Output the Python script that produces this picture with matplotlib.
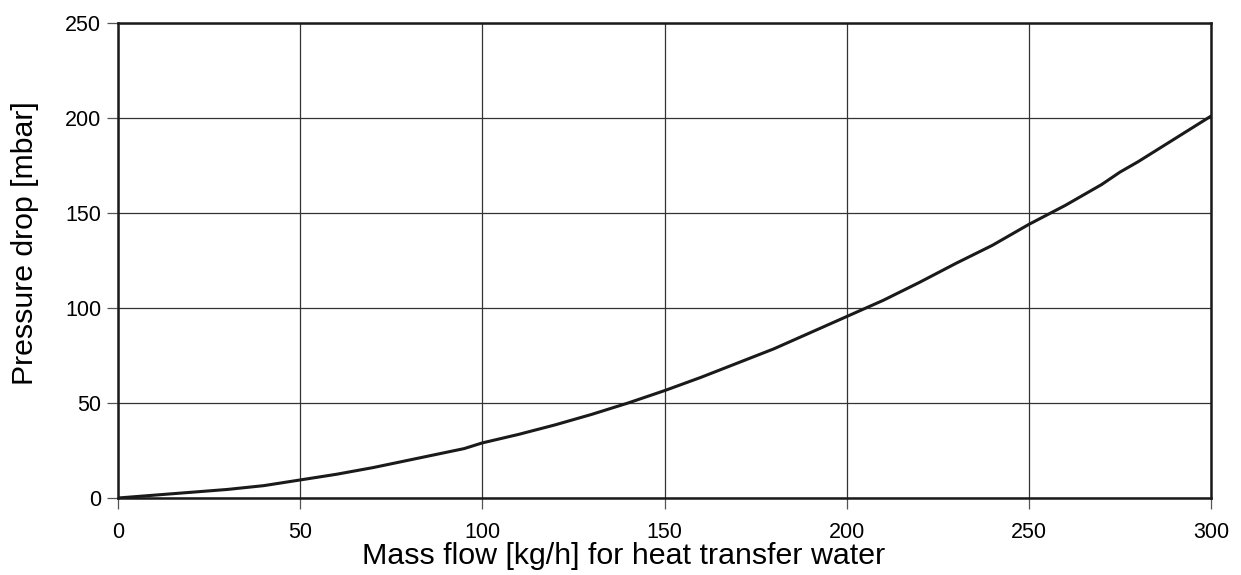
import matplotlib
matplotlib.use("Agg")
from matplotlib import pyplot as plt

# mass flow [kg/h] and pressure drop [mbar]
flow = [0, 10, 20, 30, 40, 50, 60, 70, 80, 85, 95, 100, 110, 120, 130, 140,
        150, 160, 170, 180, 190, 200, 210, 220, 230, 240, 250, 260, 265, 270,
        275, 280, 290, 300]
dp = [0, 1.5, 3, 4.5, 6.5, 9.5, 12.5, 16, 20, 22, 26, 29, 33.5, 38.5, 44, 50,
      56.5, 63.5, 71, 78.5, 87, 95.5, 104, 113.5, 123.5, 133, 144, 154, 159.5,
      165, 171.5, 177, 189, 201]

xticks = [0, 50, 100, 150, 200, 250, 300]
yticks = [0, 50, 100, 150, 200, 250]

plt.rcParams["font.family"] = ["Liberation Sans", "DejaVu Sans"]

fig = plt.figure(figsize=(12.41, 5.75), dpi=100)
ax = fig.add_axes([118 / 1241, 1 - 498 / 575, (1211 - 118) / 1241, (498 - 23) / 575])

ax.plot(flow, dp, color="#1a1a1a", lw=2.2, solid_capstyle="round")

ax.set_xlim(0, 300)
ax.set_ylim(0, 250)
ax.set_xticks(xticks)
ax.set_yticks(yticks)
ax.grid(True, color="#333333", lw=0.9)
ax.set_axisbelow(True)
ax.tick_params(labelsize=15.5, length=8, width=0.9, color="#555555")
ax.tick_params(axis="x", pad=9)
ax.tick_params(axis="y", pad=4)
for s in ax.spines.values():
    s.set_linewidth(1.8)
    s.set_color("#1a1a1a")

ax.set_xlabel("Mass flow [kg/h] for heat transfer water", fontsize=21.9)
ax.set_ylabel("Pressure drop [mbar]", fontsize=21.8)
ax.xaxis.set_label_coords(0.4625, -0.092)
ax.yaxis.set_label_coords(-0.0723, 0.5358)

# title sits above the visible area, only a descender peeks in
fig.text(505 / 1241, 1 + 7 / 575, "Pressure drop", fontsize=16, fontweight="bold",
         ha="right", va="baseline")

fig.savefig("out.png", dpi=100)
